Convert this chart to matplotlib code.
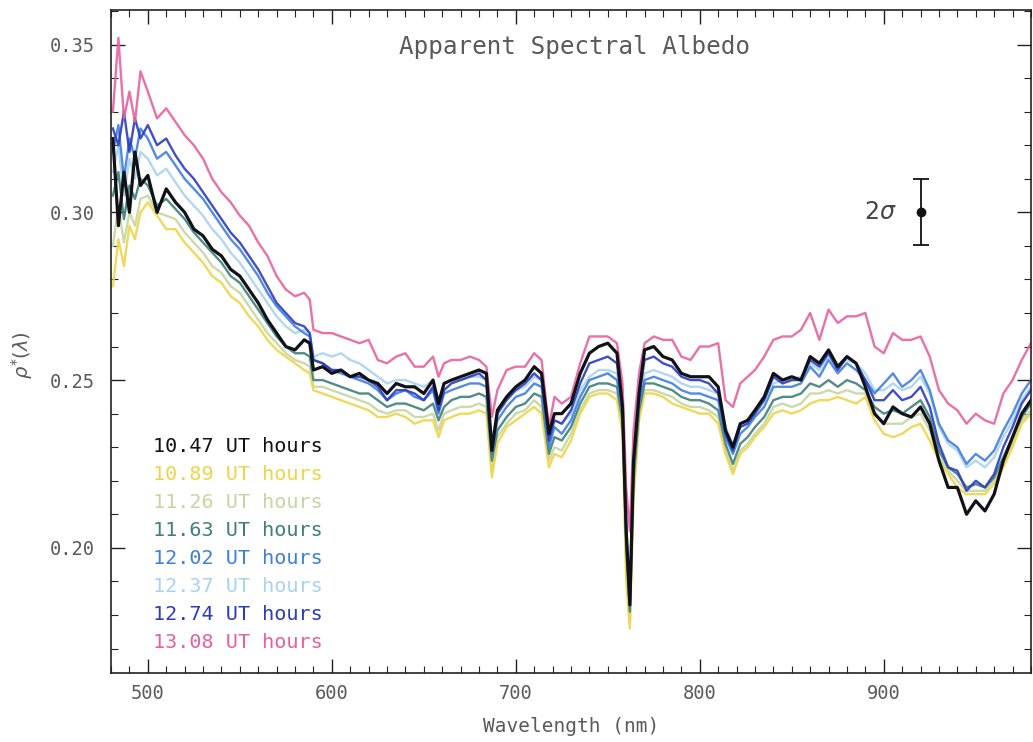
import matplotlib
matplotlib.use("Agg")
import matplotlib.pyplot as plt
import matplotlib.ticker as mtick

# ==========================================================
# 1. Data
# ==========================================================
wavelength = [
    481, 484, 487, 490, 493, 496, 500, 505, 510, 515,
    520, 525, 530, 535, 540, 545, 550, 555, 560, 565,
    570, 575, 580, 585, 588, 590, 595, 600, 605, 610,
    615, 620, 625, 630, 635, 640, 645, 650, 655, 658,
    661, 665, 670, 675, 680, 684, 687, 690, 695, 700,
    705, 710, 714, 718, 721, 725, 730, 735, 740, 745,
    750, 755, 758, 760, 762, 764, 767, 770, 775, 780,
    785, 790, 795, 800, 805, 810, 814, 818, 822, 826,
    830, 835, 840, 845, 850, 855, 860, 865, 870, 875,
    880, 885, 890, 895, 900, 905, 910, 915, 920, 925,
    930, 935, 940, 945, 950, 955, 960, 965, 970, 975,
    980,
]

albedo_1047 = [
    0.322, 0.296, 0.312, 0.300, 0.318, 0.308, 0.311, 0.300, 0.307, 0.303,
    0.300, 0.295, 0.293, 0.289, 0.287, 0.283, 0.281, 0.277, 0.273, 0.268,
    0.264, 0.260, 0.259, 0.262, 0.261, 0.253, 0.254, 0.252, 0.253, 0.251,
    0.252, 0.250, 0.249, 0.246, 0.249, 0.248, 0.248, 0.246, 0.250, 0.243,
    0.249, 0.250, 0.251, 0.252, 0.253, 0.252, 0.229, 0.241, 0.245, 0.248,
    0.250, 0.254, 0.252, 0.234, 0.240, 0.240, 0.243, 0.252, 0.258, 0.260,
    0.261, 0.258, 0.242, 0.205, 0.183, 0.226, 0.246, 0.259, 0.260, 0.257,
    0.256, 0.252, 0.251, 0.251, 0.251, 0.248, 0.235, 0.230, 0.237, 0.238,
    0.241, 0.245, 0.252, 0.250, 0.251, 0.250, 0.257, 0.255, 0.259, 0.254,
    0.257, 0.255, 0.248, 0.240, 0.237, 0.242, 0.240, 0.239, 0.242, 0.237,
    0.226, 0.218, 0.218, 0.210, 0.214, 0.211, 0.216, 0.226, 0.233, 0.240,
    0.244,
]

albedo_1089 = [
    0.278, 0.292, 0.284, 0.296, 0.292, 0.300, 0.303, 0.299, 0.295, 0.295,
    0.291, 0.288, 0.285, 0.281, 0.279, 0.275, 0.273, 0.269, 0.266, 0.262,
    0.259, 0.257, 0.255, 0.253, 0.252, 0.247, 0.246, 0.245, 0.244, 0.243,
    0.242, 0.241, 0.239, 0.239, 0.240, 0.239, 0.237, 0.238, 0.238, 0.233,
    0.238, 0.239, 0.240, 0.240, 0.241, 0.240, 0.221, 0.231, 0.236, 0.238,
    0.240, 0.242, 0.240, 0.224, 0.228, 0.227, 0.232, 0.240, 0.245, 0.246,
    0.246, 0.244, 0.234, 0.190, 0.176, 0.214, 0.238, 0.246, 0.246, 0.245,
    0.243, 0.242, 0.241, 0.240, 0.240, 0.237, 0.228, 0.222, 0.228, 0.230,
    0.233, 0.236, 0.240, 0.241, 0.240, 0.241, 0.243, 0.244, 0.244, 0.245,
    0.244, 0.243, 0.245, 0.238, 0.234, 0.233, 0.234, 0.236, 0.237, 0.232,
    0.226, 0.222, 0.218, 0.216, 0.216, 0.216, 0.219, 0.224, 0.230, 0.237,
    0.240,
]

albedo_1126 = [
    0.290, 0.302, 0.291, 0.300, 0.296, 0.304, 0.305, 0.300, 0.299, 0.298,
    0.294, 0.291, 0.288, 0.284, 0.282, 0.278, 0.276, 0.272, 0.268, 0.264,
    0.261, 0.258, 0.256, 0.255, 0.254, 0.248, 0.248, 0.247, 0.246, 0.245,
    0.244, 0.243, 0.241, 0.240, 0.241, 0.241, 0.239, 0.239, 0.240, 0.235,
    0.240, 0.241, 0.242, 0.242, 0.243, 0.242, 0.223, 0.233, 0.237, 0.240,
    0.241, 0.244, 0.242, 0.226, 0.230, 0.229, 0.234, 0.241, 0.246, 0.247,
    0.247, 0.246, 0.236, 0.195, 0.178, 0.217, 0.239, 0.247, 0.247, 0.246,
    0.245, 0.243, 0.242, 0.242, 0.241, 0.239, 0.229, 0.223, 0.229, 0.231,
    0.234, 0.237, 0.242, 0.243, 0.242, 0.243, 0.246, 0.246, 0.247, 0.246,
    0.247, 0.246, 0.246, 0.240, 0.237, 0.237, 0.237, 0.239, 0.240, 0.235,
    0.227, 0.223, 0.220, 0.217, 0.217, 0.217, 0.220, 0.225, 0.231, 0.238,
    0.241,
]

albedo_1163 = [
    0.305, 0.312, 0.298, 0.308, 0.304, 0.310, 0.308, 0.302, 0.304, 0.301,
    0.298, 0.294, 0.291, 0.288, 0.285, 0.281, 0.279, 0.275, 0.271, 0.267,
    0.263, 0.260, 0.258, 0.258, 0.257, 0.250, 0.250, 0.249, 0.248, 0.247,
    0.246, 0.246, 0.244, 0.242, 0.243, 0.243, 0.242, 0.241, 0.243, 0.238,
    0.242, 0.244, 0.245, 0.245, 0.246, 0.245, 0.226, 0.235, 0.239, 0.242,
    0.243, 0.246, 0.245, 0.228, 0.233, 0.232, 0.236, 0.243, 0.248, 0.249,
    0.249, 0.248, 0.238, 0.200, 0.181, 0.220, 0.241, 0.249, 0.249, 0.248,
    0.247, 0.245, 0.244, 0.244, 0.243, 0.241, 0.231, 0.225, 0.231, 0.233,
    0.236, 0.239, 0.244, 0.245, 0.245, 0.246, 0.249, 0.248, 0.250, 0.248,
    0.250, 0.249, 0.247, 0.242, 0.240, 0.241, 0.240, 0.242, 0.244, 0.239,
    0.229, 0.224, 0.222, 0.218, 0.219, 0.218, 0.221, 0.227, 0.233, 0.239,
    0.243,
]

albedo_1202 = [
    0.318, 0.326, 0.310, 0.322, 0.316, 0.325, 0.322, 0.316, 0.318, 0.314,
    0.310, 0.307, 0.304, 0.300, 0.296, 0.292, 0.289, 0.285, 0.281, 0.276,
    0.272, 0.269, 0.266, 0.264, 0.263, 0.256, 0.255, 0.253, 0.252, 0.251,
    0.250, 0.249, 0.247, 0.244, 0.246, 0.247, 0.245, 0.244, 0.247, 0.240,
    0.246, 0.247, 0.248, 0.249, 0.249, 0.248, 0.228, 0.238, 0.242, 0.245,
    0.246, 0.249, 0.248, 0.230, 0.236, 0.234, 0.238, 0.245, 0.250, 0.251,
    0.252, 0.250, 0.240, 0.205, 0.185, 0.224, 0.243, 0.250, 0.251, 0.250,
    0.249, 0.247, 0.246, 0.246, 0.245, 0.244, 0.233, 0.228, 0.234, 0.236,
    0.239, 0.242, 0.248, 0.248, 0.248, 0.249, 0.254, 0.251, 0.256, 0.252,
    0.255, 0.253, 0.250, 0.246, 0.249, 0.252, 0.248, 0.250, 0.253, 0.247,
    0.237, 0.232, 0.230, 0.225, 0.228, 0.226, 0.229, 0.235, 0.240, 0.246,
    0.250,
]

albedo_1237 = [
    0.312, 0.320, 0.305, 0.316, 0.310, 0.318, 0.316, 0.311, 0.313, 0.309,
    0.305, 0.302, 0.299, 0.295, 0.292, 0.288, 0.285, 0.281, 0.277, 0.273,
    0.269, 0.266, 0.264, 0.265, 0.264, 0.257, 0.258, 0.257, 0.258, 0.256,
    0.255, 0.253, 0.251, 0.249, 0.250, 0.250, 0.249, 0.248, 0.250, 0.244,
    0.249, 0.250, 0.250, 0.251, 0.251, 0.250, 0.232, 0.241, 0.245, 0.247,
    0.248, 0.251, 0.250, 0.233, 0.238, 0.237, 0.240, 0.247, 0.251, 0.253,
    0.253, 0.252, 0.242, 0.208, 0.188, 0.226, 0.245, 0.252, 0.253, 0.252,
    0.251, 0.249, 0.248, 0.248, 0.247, 0.246, 0.236, 0.231, 0.236, 0.238,
    0.241, 0.244, 0.249, 0.250, 0.250, 0.251, 0.255, 0.253, 0.257, 0.254,
    0.256, 0.255, 0.252, 0.247, 0.247, 0.249, 0.247, 0.248, 0.251, 0.246,
    0.236, 0.231, 0.229, 0.224, 0.226, 0.224, 0.227, 0.233, 0.238, 0.244,
    0.248,
]

albedo_1274 = [
    0.325, 0.320, 0.330, 0.318, 0.328, 0.322, 0.326, 0.320, 0.322, 0.317,
    0.313, 0.310, 0.306, 0.302, 0.298, 0.294, 0.291, 0.287, 0.283, 0.278,
    0.273, 0.270, 0.267, 0.266, 0.264, 0.256, 0.255, 0.253, 0.253, 0.251,
    0.251, 0.250, 0.248, 0.244, 0.247, 0.247, 0.246, 0.244, 0.248, 0.241,
    0.247, 0.249, 0.250, 0.251, 0.252, 0.250, 0.229, 0.240, 0.244, 0.247,
    0.249, 0.252, 0.250, 0.232, 0.238, 0.237, 0.241, 0.249, 0.255, 0.256,
    0.257, 0.255, 0.241, 0.205, 0.184, 0.225, 0.245, 0.256, 0.257, 0.255,
    0.254, 0.251, 0.250, 0.250, 0.249, 0.246, 0.234, 0.229, 0.236, 0.237,
    0.240, 0.244, 0.251, 0.249, 0.250, 0.250, 0.256, 0.254, 0.258, 0.253,
    0.257, 0.255, 0.250, 0.244, 0.244, 0.247, 0.244, 0.245, 0.248, 0.242,
    0.231, 0.224, 0.223, 0.217, 0.220, 0.218, 0.222, 0.230, 0.236, 0.243,
    0.247,
]

albedo_1308 = [
    0.330, 0.352, 0.328, 0.336, 0.327, 0.342, 0.336, 0.328, 0.331, 0.327,
    0.323, 0.320, 0.316, 0.310, 0.306, 0.303, 0.299, 0.296, 0.291, 0.287,
    0.281, 0.277, 0.275, 0.276, 0.274, 0.265, 0.264, 0.264, 0.263, 0.262,
    0.261, 0.262, 0.256, 0.255, 0.257, 0.258, 0.254, 0.254, 0.257, 0.251,
    0.255, 0.256, 0.256, 0.257, 0.256, 0.254, 0.239, 0.247, 0.253, 0.254,
    0.254, 0.258, 0.256, 0.236, 0.245, 0.243, 0.245, 0.255, 0.263, 0.263,
    0.263, 0.261, 0.249, 0.218, 0.205, 0.235, 0.252, 0.261, 0.263, 0.262,
    0.262, 0.257, 0.256, 0.260, 0.260, 0.261, 0.244, 0.242, 0.249, 0.251,
    0.253, 0.257, 0.262, 0.263, 0.263, 0.265, 0.270, 0.262, 0.271, 0.267,
    0.269, 0.269, 0.270, 0.260, 0.258, 0.264, 0.262, 0.262, 0.263, 0.257,
    0.247, 0.243, 0.241, 0.237, 0.240, 0.238, 0.237, 0.246, 0.250, 0.256,
    0.261,
]

ut_labels = [
    "10.47 UT hours",
    "10.89 UT hours",
    "11.26 UT hours",
    "11.63 UT hours",
    "12.02 UT hours",
    "12.37 UT hours",
    "12.74 UT hours",
    "13.08 UT hours",
]

series = [
    albedo_1047, albedo_1089, albedo_1126, albedo_1163,
    albedo_1202, albedo_1237, albedo_1274, albedo_1308,
]

colors = [
    "#111118",  # black
    "#efd44a",  # yellow
    "#c6d6a0",  # pale green
    "#3f807a",  # teal
    "#3f7fe0",  # blue
    "#a9d3f0",  # light blue
    "#2b3cbf",  # dark blue
    "#e8609f",  # pink
]

# error bar marker (2 sigma)
err_x = 920
err_y = 0.300
err_size = 0.0098

# IDL-like evenly spaced font
MONO = "DejaVu Sans Mono"
TEXT_GRAY = "#5a5a5a"

# ==========================================================
# 2. Figure
# ==========================================================
fig = plt.figure(figsize=(10.33, 7.42), dpi=100)
ax = fig.add_axes([0.1075, 0.093, 0.8905, 0.8935])

# draw order: pale ones first, black on top
draw_order = [2, 1, 5, 3, 4, 6, 7, 0]
for i in draw_order:
    ax.plot(
        wavelength,
        series[i],
        color=colors[i],
        linewidth=2.3 if i == 0 else 1.7,
        alpha=1.0 if i == 0 else 0.9,
    )

# ==========================================================
# 3. Axes styling (IDL look)
# ==========================================================
ax.set_xlim(480, 980)
ax.set_ylim(0.1627, 0.3603)

ax.xaxis.set_major_locator(mtick.MultipleLocator(100))
ax.xaxis.set_minor_locator(mtick.MultipleLocator(10))
ax.yaxis.set_major_locator(mtick.MultipleLocator(0.05))
ax.yaxis.set_minor_locator(mtick.MultipleLocator(0.01))
ax.yaxis.set_major_formatter(mtick.FormatStrFormatter("%.2f"))

ax.tick_params(
    which="both",
    direction="in",
    top=True,
    right=True,
    colors="#222222",
    labelcolor=TEXT_GRAY,
    labelsize=13.5,
)
ax.tick_params(which="major", length=10, width=1.0)
ax.tick_params(which="minor", length=5, width=0.8)
ax.tick_params(axis="x", which="major", pad=8)
ax.tick_params(axis="y", which="major", pad=12)

for lab in ax.get_xticklabels() + ax.get_yticklabels():
    lab.set_family(MONO)

for spine in ax.spines.values():
    spine.set_linewidth(1.2)
    spine.set_color("#222222")

fig.text(
    571 / 1033, 1 - 727 / 742,
    "Wavelength (nm)",
    family=MONO,
    fontsize=14,
    color=TEXT_GRAY,
    ha="center",
    va="center",
)
fig.text(
    22 / 1033, 1 - 355 / 742,
    r"$\rho^{*}(\lambda)$",
    rotation=90,
    fontsize=14,
    color=TEXT_GRAY,
    ha="center",
    va="center",
)

ax.text(
    0.504, 0.944,
    "Apparent Spectral Albedo",
    transform=ax.transAxes,
    family=MONO,
    fontsize=17.5,
    color=TEXT_GRAY,
    ha="center",
    va="center",
)

# ==========================================================
# 4. 2-sigma error bar
# ==========================================================
ax.errorbar(
    [err_x], [err_y],
    yerr=[err_size],
    fmt="o",
    color="#111111",
    markersize=6,
    capsize=6,
    elinewidth=1.3,
    capthick=1.3,
)
ax.text(
    err_x - 22, err_y,
    r"$2\sigma$",
    fontsize=17,
    color="#444444",
    ha="center",
    va="center",
)

# ==========================================================
# 5. UT hours labels
# ==========================================================
for k, (label, col) in enumerate(zip(ut_labels, colors)):
    ax.text(
        0.0457, 0.341 - k * 0.0422,
        label,
        transform=ax.transAxes,
        family=MONO,
        fontsize=14.5,
        color=col,
        ha="left",
        va="center",
    )

fig.savefig("out.png", dpi=100, facecolor="white")
